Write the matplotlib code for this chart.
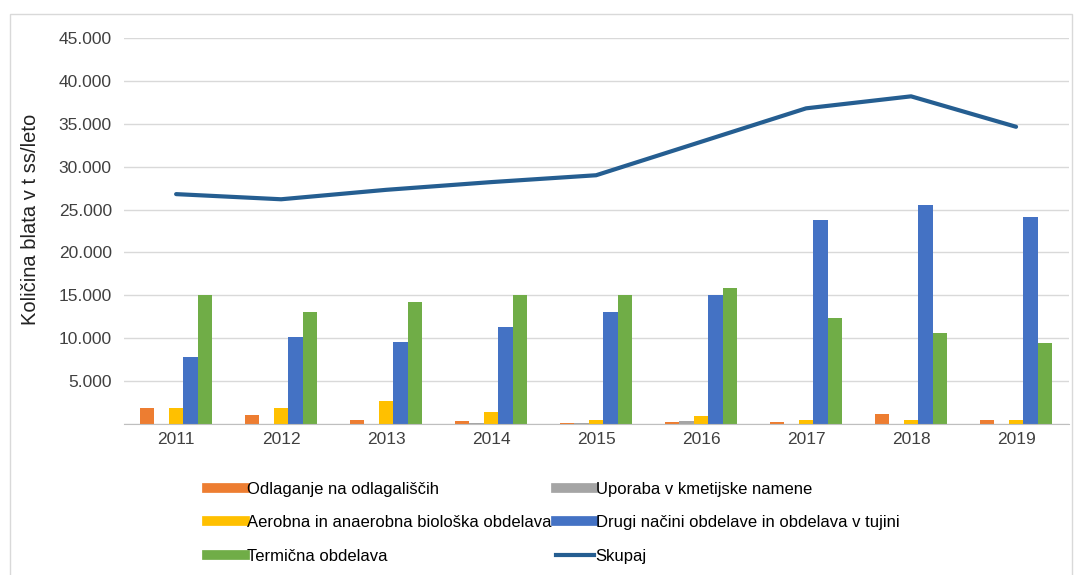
import numpy as np
import matplotlib.pyplot as plt
from matplotlib.lines import Line2D
from matplotlib.patches import Rectangle
from matplotlib.ticker import FuncFormatter

plt.rcParams['font.family'] = ['Liberation Sans', 'DejaVu Sans']

years = ['2011', '2012', '2013', '2014', '2015', '2016', '2017', '2018', '2019']
odlaganje = [1900, 1100, 500, 300, 100, 200, 200, 1150, 450]
uporaba = [0, 0, 0, 100, 100, 300, 0, 0, 0]
aerobna = [1900, 1900, 2700, 1450, 500, 950, 450, 500, 450]
drugi = [7800, 10200, 9600, 11300, 13100, 15000, 23800, 25500, 24100]
termicna = [15000, 13000, 14250, 15000, 15000, 15900, 12400, 10600, 9500]
skupaj = [26800, 26200, 27300, 28200, 29000, 32900, 36800, 38200, 34650]

series = [
    ('Odlaganje na odlagališčih', odlaganje, '#ED7D31'),
    ('Uporaba v kmetijske namene', uporaba, '#A5A5A5'),
    ('Aerobna in anaerobna biološka obdelava', aerobna, '#FFC000'),
    ('Drugi načini obdelave in obdelava v tujini', drugi, '#4472C4'),
    ('Termična obdelava', termicna, '#70AD47'),
]
line_color = '#255E91'

fig = plt.figure(figsize=(10.75, 5.75), dpi=100)
ax = fig.add_axes([0.115, 0.2626, 0.879, 0.6713])

x = np.arange(len(years))
w = 0.138
for i, (name, vals, col) in enumerate(series):
    ax.bar(x + (i - 2) * w, vals, width=w, color=col, zorder=2)
ax.plot(x, skupaj, color=line_color, lw=3, zorder=3, solid_capstyle='round')

ax.set_xlim(-0.5, len(years) - 0.5)
ax.set_ylim(0, 45000)
ax.set_yticks(range(0, 45001, 5000))
ax.yaxis.set_major_formatter(FuncFormatter(
    lambda v, p: '' if v == 0 else f'{int(v):,}'.replace(',', '.')))
ax.set_xticks(x)
ax.set_xticklabels(years)
ax.grid(axis='y', color='#D9D9D9', lw=1, zorder=0)
for s in ['top', 'right', 'left']:
    ax.spines[s].set_visible(False)
ax.spines['bottom'].set_color('#BFBFBF')
ax.tick_params(axis='both', length=0, labelsize=12.5, colors='#404040')
ax.tick_params(axis='y', pad=8.5)
ax.tick_params(axis='x', pad=6)
ax.set_ylabel('Količina blata v t ss/leto', fontsize=14.5, color='#222222')
ax.yaxis.set_label_coords(-0.088, 0.53)

handles = [
    Line2D([], [], color='#ED7D31', lw=7),
    Line2D([], [], color='#FFC000', lw=7),
    Line2D([], [], color='#70AD47', lw=7),
    Line2D([], [], color='#A5A5A5', lw=7),
    Line2D([], [], color='#4472C4', lw=7),
    Line2D([], [], color=line_color, lw=3),
]
labels = [series[0][0], series[2][0], series[4][0],
          series[1][0], series[3][0], 'Skupaj']
fig.legend(handles, labels, loc='upper left', bbox_to_anchor=(0.1926, 0.162),
           ncol=2, frameon=False, fontsize=12, handlelength=2.3,
           handletextpad=0.1, columnspacing=0.25, labelspacing=1.1,
           borderpad=0, borderaxespad=0)

fig.patches.append(Rectangle((10 / 1075, -0.01), 1062 / 1075, 1 - 14 / 575 + 0.01,
                             transform=fig.transFigure, fill=False,
                             edgecolor='#D9D9D9', lw=1))

fig.savefig('out.png', dpi=100)
